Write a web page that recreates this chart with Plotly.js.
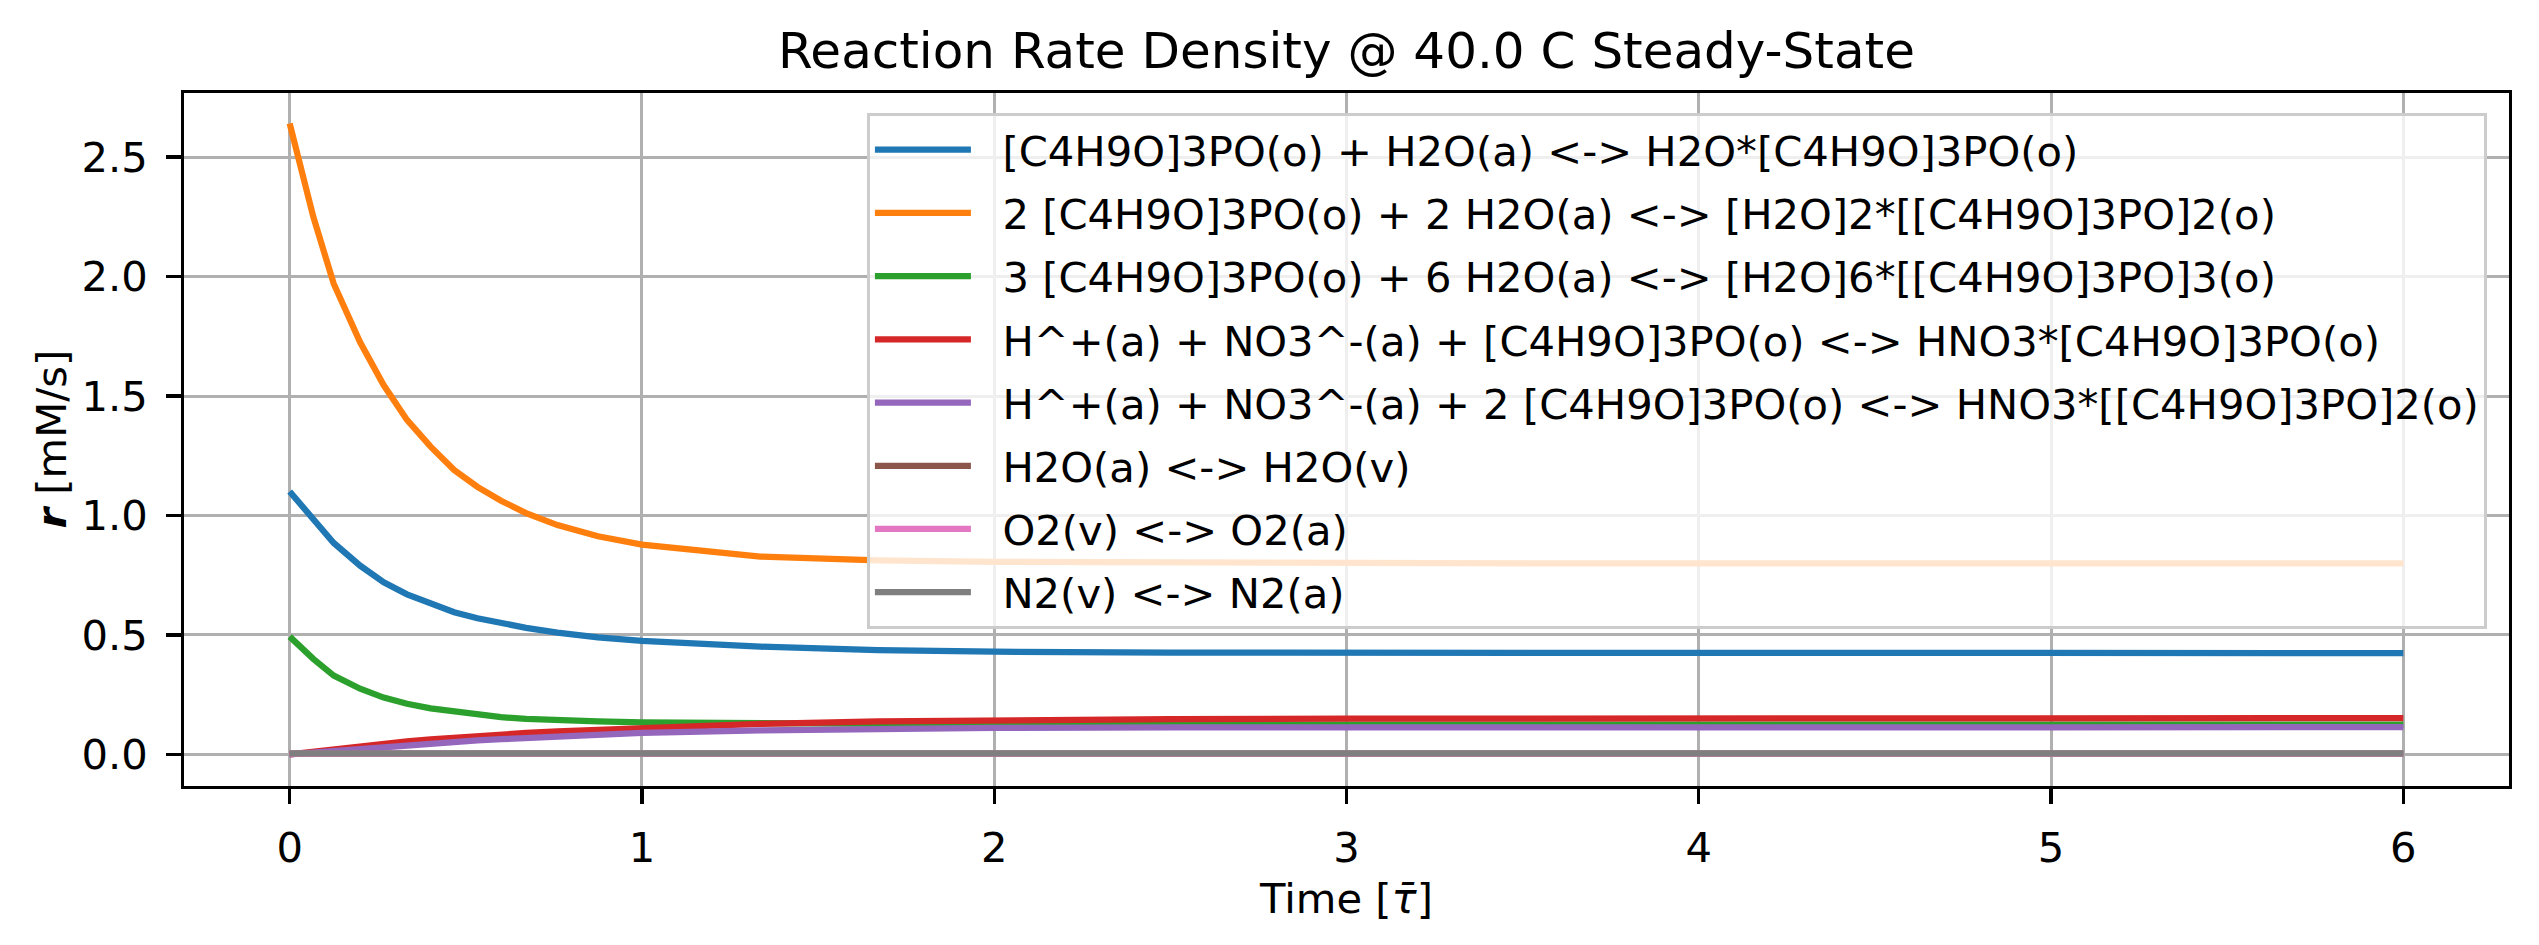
<!DOCTYPE html>
<html>
<head>
<meta charset="utf-8">
<script src="https://cdn.plot.ly/plotly-3.0.1.min.js"></script>
<style>
  html, body { margin: 0; padding: 0; background: #ffffff; }
  #chart { width: 2539px; height: 945px; }
</style>
</head>
<body>
<div id="chart"></div>
<script>
// Time points (dimensionless tau-bar)
const timeTau = [0, 0.067, 0.125, 0.2, 0.267, 0.333, 0.4, 0.467, 0.533, 0.6, 0.671, 0.76, 0.875, 1.0, 1.336, 1.67, 2.0, 2.5, 3.0, 3.5, 4.0, 4.5, 5.0, 5.5, 6.0];

// Series labels
const reactionLabels = [
  "[C4H9O]3PO(o) + H2O(a) <-> H2O*[C4H9O]3PO(o)",
  "2 [C4H9O]3PO(o) + 2 H2O(a) <-> [H2O]2*[[C4H9O]3PO]2(o)",
  "3 [C4H9O]3PO(o) + 6 H2O(a) <-> [H2O]6*[[C4H9O]3PO]3(o)",
  "H^+(a) + NO3^-(a) + [C4H9O]3PO(o) <-> HNO3*[C4H9O]3PO(o)",
  "H^+(a) + NO3^-(a) + 2 [C4H9O]3PO(o) <-> HNO3*[[C4H9O]3PO]2(o)",
  "H2O(a) <-> H2O(v)",
  "O2(v) <-> O2(a)",
  "N2(v) <-> N2(a)"
];

// Rates [mM/s]
const rateTBPwater   = [1.10, 0.98, 0.885, 0.79, 0.72, 0.67, 0.63, 0.595, 0.57, 0.548, 0.53, 0.51, 0.49, 0.475, 0.451, 0.437, 0.43, 0.426, 0.425, 0.424, 0.424, 0.424, 0.424, 0.424, 0.424];
const rateDimerWater = [2.64, 2.25, 1.97, 1.725, 1.545, 1.40, 1.288, 1.19, 1.12, 1.062, 1.01, 0.96, 0.913, 0.878, 0.828, 0.812, 0.806, 0.802, 0.80, 0.80, 0.80, 0.80, 0.80, 0.80, 0.80];
const rateTrimerWater= [0.493, 0.40, 0.33, 0.275, 0.238, 0.212, 0.193, 0.179, 0.166, 0.156, 0.149, 0.143, 0.138, 0.134, 0.130, 0.127, 0.126, 0.125, 0.125, 0.125, 0.125, 0.125, 0.125, 0.125, 0.125];
const rateHNO3mono   = [0, 0.012, 0.023, 0.035, 0.046, 0.055, 0.063, 0.071, 0.078, 0.084, 0.090, 0.097, 0.104, 0.111, 0.128, 0.138, 0.144, 0.148, 0.150, 0.151, 0.152, 0.152, 0.152, 0.152, 0.152];
const rateHNO3di     = [0, 0.008, 0.016, 0.025, 0.033, 0.040, 0.047, 0.053, 0.059, 0.064, 0.069, 0.075, 0.082, 0.090, 0.101, 0.107, 0.111, 0.113, 0.114, 0.114, 0.114, 0.114, 0.114, 0.114, 0.114];
const rateH2Oevap    = [0.004, 0.004, 0.004, 0.004, 0.004, 0.004, 0.004, 0.004, 0.004, 0.004, 0.004, 0.004, 0.004, 0.004, 0.004, 0.004, 0.004, 0.004, 0.004, 0.004, 0.004, 0.004, 0.004, 0.004, 0.004];
const rateO2         = [0.003, 0.003, 0.003, 0.003, 0.003, 0.003, 0.003, 0.003, 0.003, 0.003, 0.003, 0.003, 0.003, 0.003, 0.003, 0.003, 0.003, 0.003, 0.003, 0.003, 0.003, 0.003, 0.003, 0.003, 0.003];
const rateN2         = [0.005, 0.005, 0.005, 0.005, 0.005, 0.005, 0.005, 0.005, 0.005, 0.005, 0.005, 0.005, 0.005, 0.005, 0.005, 0.005, 0.005, 0.005, 0.005, 0.005, 0.005, 0.005, 0.005, 0.005, 0.005];

const xTickVals = [0, 1, 2, 3, 4, 5, 6];
const yTickVals = [0.0, 0.5, 1.0, 1.5, 2.0, 2.5];

const seriesValues = [rateTBPwater, rateDimerWater, rateTrimerWater, rateHNO3mono, rateHNO3di, rateH2Oevap, rateO2, rateN2];
const seriesColors = ["#1f77b4", "#ff7f0e", "#2ca02c", "#d62728", "#9467bd", "#8c564b", "#e377c2", "#7f7f7f"];

const FONT = "DejaVu Sans, Liberation Sans, sans-serif";
const FS = 41.7;
const LEGEND_PAD = "\u00A0\u00A0";

const traces = seriesValues.map((vals, i) => ({
  type: "scatter",
  mode: "lines",
  x: timeTau,
  y: vals,
  name: LEGEND_PAD + reactionLabels[i],
  legendgroup: "g" + i,
  line: { color: seriesColors[i], width: 6.25 },
  hoverinfo: "skip"
}));

const layout = {
  width: 2539,
  height: 945,
  paper_bgcolor: "#ffffff",
  plot_bgcolor: "#ffffff",
  margin: { l: 184, r: 30, t: 93, b: 159, pad: 0 },
  font: { family: FONT, size: FS, color: "#000000" },
  title: {
    text: "Reaction Rate Density @ 40.0 C Steady-State",
    font: { family: FONT, size: 50, color: "#000000" },
    x: 0.5303, xref: "container", xanchor: "center",
    y: 0.947, yref: "container", yanchor: "middle"
  },
  xaxis: {
    range: [-0.3, 6.3],
    tickvals: xTickVals,
    ticktext: xTickVals.map(String),
    showgrid: true, gridcolor: "#b0b0b0", gridwidth: 3,
    zeroline: false,
    showline: true, mirror: true, linecolor: "#000000", linewidth: 3.3,
    ticks: "outside", ticklen: 14.6, tickwidth: 3.3, tickcolor: "#000000",
    tickfont: { family: FONT, size: FS, color: "#000000" },
    ticklabelstandoff: 8,
    title: { text: "Time [<i>τ̄</i>]", font: { family: FONT, size: FS, color: "#000000" }, standoff: 14 },
    automargin: false
  },
  yaxis: {
    range: [-0.132, 2.768],
    tickvals: yTickVals,
    ticktext: yTickVals.map(v => v.toFixed(1)),
    showgrid: true, gridcolor: "#b0b0b0", gridwidth: 3,
    zeroline: false,
    showline: true, mirror: true, linecolor: "#000000", linewidth: 3.3,
    ticks: "outside", ticklen: 14.6, tickwidth: 3.3, tickcolor: "#000000",
    tickfont: { family: FONT, size: FS, color: "#000000" },
    ticklabelstandoff: 10,
    automargin: false
  },
  annotations: [{
    text: "<b><i>r</i></b> [mM/s]",
    font: { family: FONT, size: FS, color: "#000000" },
    textangle: -90,
    xref: "paper", x: 0, xanchor: "center", xshift: -133,
    yref: "paper", y: 0.5, yanchor: "middle",
    showarrow: false
  }],
  showlegend: true,
  legend: {
    x: 0.9905, xanchor: "right", xref: "paper",
    y: 0.971, yanchor: "top", yref: "paper",
    bgcolor: "rgba(255,255,255,0.8)",
    bordercolor: "#cccccc",
    borderwidth: 3,
    font: { family: FONT, size: FS, color: "#000000" },
    tracegroupgap: 6,
    itemwidth: 96,
    traceorder: "grouped"
  }
};

Plotly.newPlot("chart", traces, layout, { displayModeBar: false, staticPlot: true });
</script>
</body>
</html>
